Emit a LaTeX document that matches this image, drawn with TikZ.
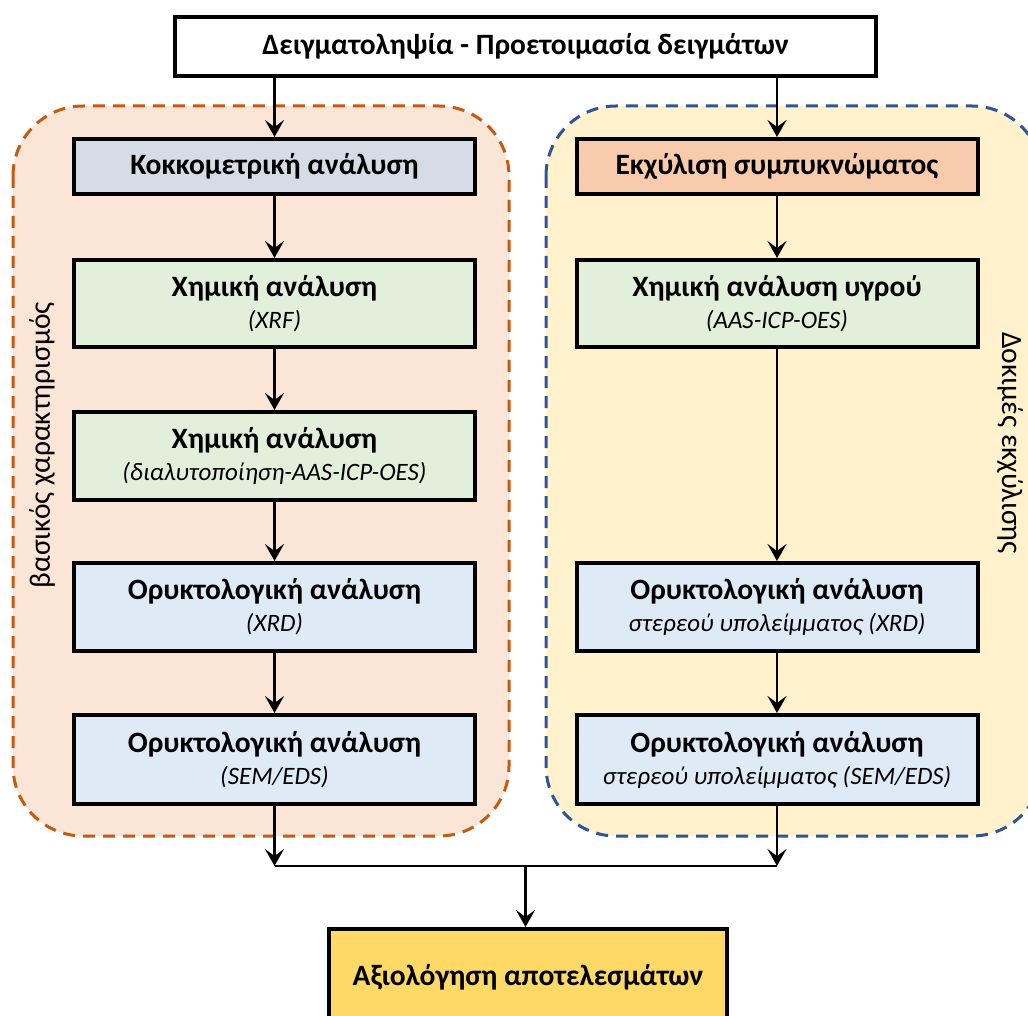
\documentclass[tikz,border=0pt]{standalone}
\usepackage{fontspec}
\setmainfont{Carlito}
\usetikzlibrary{arrows.meta}
\definecolor{lgfill}{HTML}{FBE5D6}
\definecolor{lgborder}{HTML}{C55A11}
\definecolor{rgfill}{HTML}{FFF2CC}
\definecolor{rgborder}{HTML}{2F5597}
\definecolor{greyblue}{HTML}{D6DCE5}
\definecolor{lgreen}{HTML}{E2EFDA}
\definecolor{lblue}{HTML}{DEEBF7}
\definecolor{salmon}{HTML}{F8CBAD}
\definecolor{gold}{HTML}{FFD966}
\tikzset{
  box/.style={draw=black, line width=4pt, rectangle, align=center, inner sep=0pt,
    font=\fontsize{29.5}{32}\selectfont\bfseries},
  colbox/.style={box, minimum width=401pt},
  grp/.style={dashed, dash pattern=on 12pt off 8pt, line width=3pt, rounded corners=70pt},
  flow/.style={line width=2.5pt, -{Stealth[length=17pt,width=19pt,inset=7pt]}},
  plain/.style={line width=2.5pt},
  sidelabel/.style={font=\fontsize{29.5}{32}\selectfont, inner sep=0pt}
}
\newcommand{\subt}[1]{{\fontsize{25}{32}\selectfont\mdseries\itshape #1}}
\begin{document}
\begin{tikzpicture}[x=1pt,y=-1pt]
\useasboundingbox (0,0) rectangle (1028,1016);
\clip (0,0) rectangle (1028,1016);
% groups
\draw[grp, draw=lgborder, fill=lgfill] (13,106) rectangle (509,836);
\draw[grp, draw=rgborder, fill=rgfill] (546,106) rectangle (1042,836);
% top box
\node[box, fill=white, minimum width=701pt, minimum height=59pt] (top) at (525.5,46.5) {Δειγματοληψία - Προετοιμασία δειγμάτων};
% left column
\node[colbox, fill=greyblue, minimum height=55pt] (k) at (274.5,166.5) {Κοκκομετρική ανάλυση};
\node[colbox, fill=lgreen, minimum height=87pt] (c1) at (274.5,303.5) {Χημική ανάλυση\\\subt{(XRF)}};
\node[colbox, fill=lgreen, minimum height=88pt] (c2) at (274.5,456) {Χημική ανάλυση\\\subt{(διαλυτοποίηση-AAS-ICP-OES)}};
\node[colbox, fill=lblue, minimum height=88pt] (m1) at (274.5,607) {Ορυκτολογική ανάλυση\\\subt{(XRD)}};
\node[colbox, fill=lblue, minimum height=89pt] (m2) at (274.5,759.5) {Ορυκτολογική ανάλυση\\\subt{(SEM/EDS)}};
% right column
\node[colbox, fill=salmon, minimum height=55pt] (e) at (777,166.5) {Εκχύλιση συμπυκνώματος};
\node[colbox, fill=lgreen, minimum height=87pt] (cw) at (777,303.5) {Χημική ανάλυση υγρού\\\subt{(AAS-ICP-OES)}};
\node[colbox, fill=lblue, minimum height=88pt] (r1) at (777,607) {Ορυκτολογική ανάλυση\\\subt{στερεού υπολείμματος (XRD)}};
\node[colbox, fill=lblue, minimum height=89pt] (r2) at (777,759.5) {Ορυκτολογική ανάλυση\\\subt{στερεού υπολείμματος (SEM/EDS)}};
% final
\node[box, fill=gold, minimum width=398pt, minimum height=96pt] (fin) at (528,977) {Αξιολόγηση αποτελεσμάτων};
% side labels
\node[sidelabel, rotate=90] (lbl) at (42,445) {βασικός χαρακτηρισμός};
\node[sidelabel, rotate=-90] (rbl) at (1010,443) {Δοκιμές εκχύλισης};
% connectors
\draw[flow] (top.south -| k.north) -- (k.north);
\draw[flow] (top.south -| e.north) -- (e.north);
\draw[flow] (k) -- (c1);
\draw[flow] (c1) -- (c2);
\draw[flow] (c2) -- (m1);
\draw[flow] (m1) -- (m2);
\draw[flow] (e) -- (cw);
\draw[flow] (cw) -- (r1);
\draw[flow] (r1) -- (r2);
\coordinate (jl) at (274.5,866);
\coordinate (jr) at (777,866);
\coordinate (jm) at (525.5,866);
\draw[flow] (m2.south) -- (jl);
\draw[flow] (r2.south) -- (jr);
\draw[plain] (jl) -- (jr);
\draw[flow] (jm) -- (jm |- fin.north);
\end{tikzpicture}
\end{document}
